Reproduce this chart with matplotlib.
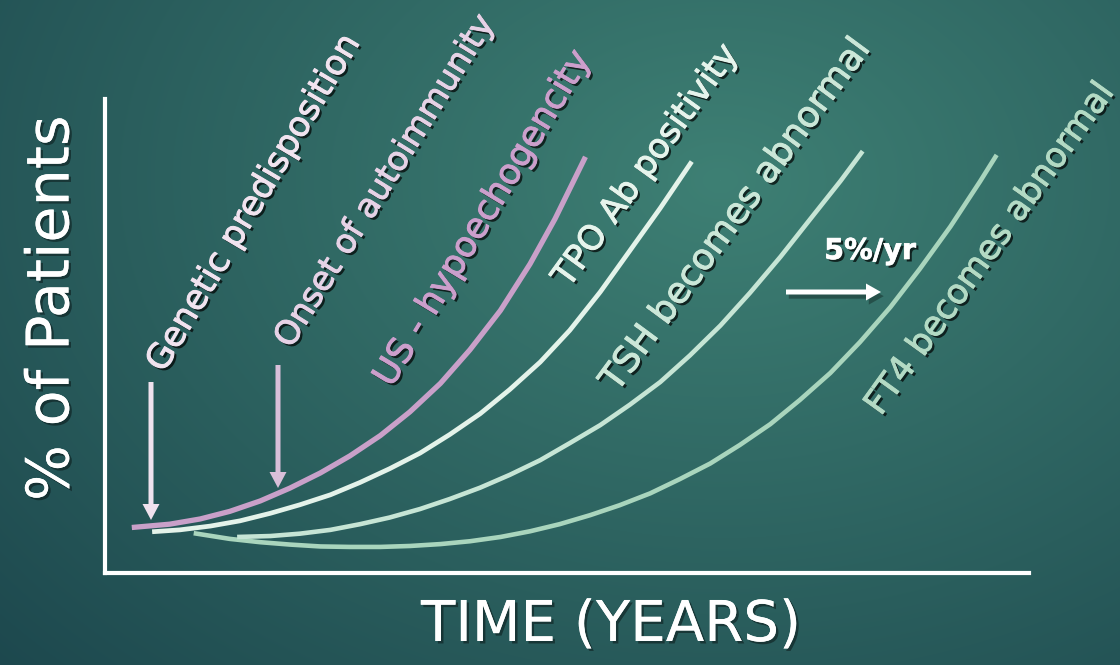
import numpy as np
import matplotlib

matplotlib.use("Agg")
import matplotlib.pyplot as plt
import matplotlib.patheffects as pe
from matplotlib.patches import FancyArrow

# Curve readings: time (years, 0-10) vs % of patients (0-100)
us_years = [0.29, 0.70, 1.03, 1.35, 1.68, 2.00, 2.33, 2.65, 2.98, 3.30, 3.63,
            3.95, 4.28, 4.60, 4.87, 5.20]
us_pct = [9.6, 10.3, 11.4, 13.0, 15.2, 17.9, 21.1, 24.7, 29.0, 34.0, 40.0,
          47.1, 55.4, 65.2, 74.7, 87.8]

tpo_years = [0.51, 0.81, 1.14, 1.46, 1.79, 2.11, 2.44, 2.76, 3.08, 3.41, 3.73,
             4.06, 4.38, 4.71, 5.03, 5.36, 5.68, 6.01, 6.35]
tpo_pct = [8.7, 9.1, 9.9, 11.0, 12.6, 14.4, 16.5, 19.1, 22.0, 25.3, 29.2,
           33.6, 38.7, 44.5, 51.2, 59.3, 68.0, 77.0, 86.8]

tsh_years = [1.43, 1.79, 2.11, 2.44, 2.76, 3.08, 3.41, 3.73, 4.06, 4.38, 4.71,
             5.03, 5.36, 5.68, 6.01, 6.33, 6.66, 6.98, 7.31, 7.63, 7.96, 8.20]
tsh_pct = [7.6, 7.8, 8.3, 9.1, 10.3, 11.7, 13.5, 15.6, 18.0, 20.7, 23.8,
           27.4, 31.2, 35.5, 40.3, 45.9, 52.2, 59.1, 66.7, 74.6, 82.7, 89.0]

ft4_years = [0.96, 1.35, 1.68, 2.00, 2.33, 2.65, 2.98, 3.30, 3.63, 3.95, 4.28,
             4.60, 4.92, 5.25, 5.57, 5.90, 6.22, 6.55, 6.87, 7.20, 7.52, 7.85,
             8.17, 8.50, 8.82, 9.15, 9.47, 9.65]
ft4_pct = [8.4, 7.2, 6.5, 6.0, 5.6, 5.5, 5.5, 5.7, 6.1, 6.7, 7.6,
           8.8, 10.3, 12.2, 14.3, 16.8, 19.8, 23.1, 27.0, 31.4, 36.5, 42.2,
           48.7, 56.1, 64.2, 73.1, 82.6, 88.2]

series = [
    (ft4_years, ft4_pct, "#a9d5bd", 3.3),
    (tsh_years, tsh_pct, "#c6e5d5", 3.3),
    (tpo_years, tpo_pct, "#e4f3ea", 3.4),
    (us_years, us_pct, "#c9a0c9", 3.8),
]

# Stage labels: text, centre (px), angle, length (px), colour
stage_labels = [
    ("Genetic predisposition", (254, 203), 59.3, 385, "#f1e3ef"),
    ("Onset of autoimmunity", (385, 181), 58.0, 385, "#e6d2e6"),
    ("US - hypoechogencity", (483, 218), 58.8, 385, "#cc9fcc"),
    ("TPO Ab positivity", (646, 166), 54.1, 290, "#e6f4ec"),
    ("TSH becomes abnormal", (736, 215), 53.6, 428, "#cbe7d8"),
    ("FT4 becomes abnormal", (990, 249), 54.2, 400, "#b3dac4"),
]
rate_label = "5%/yr"
x_title = "TIME (YEARS)"
y_title = "% of Patients"

W, H = 1120, 665
fig = plt.figure(figsize=(W / 100, H / 100), dpi=100)
renderer = fig.canvas.get_renderer()

# teal backdrop, brightest towards the upper middle
bg = fig.add_axes([0, 0, 1, 1], zorder=0)
gx, gy = np.meshgrid(np.arange(W), np.arange(H))
d = np.sqrt(((gx - 720) / 900.0) ** 2 + ((gy - 180) / 650.0) ** 2) / 1.1
d = np.clip(d, 0, 1)[..., None]
c0 = np.array([62, 128, 116]) / 255.0
c1 = np.array([29, 72, 78]) / 255.0
bg.imshow(c0 * (1 - d) + c1 * d, extent=(0, W, H, 0), aspect="auto")
bg.axis("off")

# main axes: only the left and bottom spines are shown
ax = fig.add_axes([105 / W, 92 / H, 924 / W, 474 / H], zorder=1)
ax.set_facecolor("none")
ax.set_xlim(0, 10)
ax.set_ylim(0, 100)
for side in ("top", "right"):
    ax.spines[side].set_visible(False)
for side in ("left", "bottom"):
    ax.spines[side].set_color("white")
    ax.spines[side].set_linewidth(3)
ax.set_xticks([])
ax.set_yticks([])

for xs, ys, col, lw in series:
    ax.plot(xs, ys, color=col, lw=lw, solid_capstyle="butt", solid_joinstyle="round")

# overlay in pixel units for arrows and text
deco = fig.add_axes([0, 0, 1, 1], zorder=2)
deco.set_xlim(0, W)
deco.set_ylim(H, 0)
deco.set_facecolor("none")
deco.axis("off")


def shadowed(color, width=0.7, alpha=0.7):
    return [pe.SimplePatchShadow(offset=(1.8, -1.8), shadow_rgbFace="black", alpha=alpha),
            pe.Stroke(linewidth=width, foreground=color), pe.Normal()]


def fit_text(s, xy, angle, length, color, **kw):
    t = deco.text(*xy, s, ha="center", va="center", rotation_mode="anchor",
                  fontsize=20, color=color, **kw)
    w = t.get_window_extent(renderer).width
    t.set_fontsize(20 * length / w)
    t.set_rotation(angle)
    return t


for s, xy, angle, length, col in stage_labels:
    fit_text(s, xy, angle, length, col, path_effects=shadowed(col))

fit_text(rate_label, (870, 251), 0, 92, "white", fontweight="bold",
         path_effects=shadowed("white", 0.5))
fit_text(y_title, (52, 308), 90, 385, "white", path_effects=shadowed("white", 0, 0.4))
fit_text(x_title, (611, 626), 0, 380, "white", path_effects=shadowed("white", 0, 0.4))

deco.add_patch(FancyArrow(151, 382, 0, 138, width=5, head_width=17, head_length=16,
                          length_includes_head=True, color="#f0e2ee", lw=0))
deco.add_patch(FancyArrow(278, 365, 0, 123, width=5, head_width=17, head_length=16,
                          length_includes_head=True, color="#d9bfd9", lw=0))
deco.add_patch(FancyArrow(786, 292, 95, 0, width=5, head_width=17, head_length=15,
                          length_includes_head=True, color="white", lw=0,
                          path_effects=[pe.withSimplePatchShadow(offset=(2, -3), shadow_rgbFace="black", alpha=0.3)]))

fig.savefig("out.png", dpi=100)
